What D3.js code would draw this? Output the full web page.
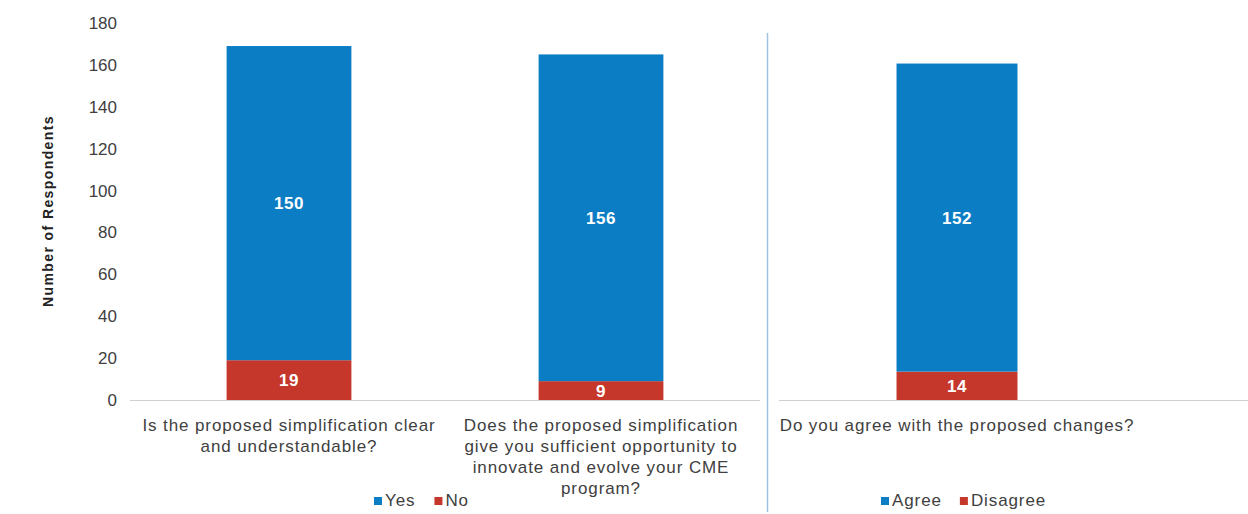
<!DOCTYPE html>
<html>
<head>
<meta charset="utf-8">
<script src="https://cdn.jsdelivr.net/npm/d3@7"></script>
<style>
  body { margin: 0; background: #fff; }
  text { font-family: "Liberation Sans", Arial, sans-serif; }
</style>
</head>
<body>
<svg id="chart" width="1248" height="514"></svg>
<script>
// left panel data
var leftCategories = [
  ["Is the proposed simplification clear", "and understandable?"],
  ["Does the proposed simplification", "give you sufficient opportunity to", "innovate and evolve your CME", "program?"]
];
var leftYes = [150, 156];
var leftNo = [19, 9];

// right panel data
var rightCategories = [["Do you agree with the proposed changes?"]];
var rightAgree = [152];
var rightDisagree = [14];

var yTicks = [0, 20, 40, 60, 80, 100, 120, 140, 160, 180];

var blue = "#0a7dc5",
    red = "#c6372b",
    textCol = "#404040";

var svg = d3.select("#chart");

var y0 = 400, yTop = 23;

var yLeft = d3.scaleLinear().domain([0, 180]).range([y0, yTop]);
// right chart has its own (hidden) value axis
var yRight = d3.scaleLinear().domain([0, 186]).range([y0, yTop]);

var xLeft = d3.scaleBand()
    .domain(d3.range(leftCategories.length))
    .range([133, 757])
    .paddingInner(0.6)
    .paddingOuter(0.3);

var xRight = d3.scaleBand()
    .domain(d3.range(rightCategories.length))
    .range([778, 1136])
    .paddingInner(0.6)
    .paddingOuter(0.392);

// y axis
var yAxis = d3.axisLeft(yLeft).tickValues(yTicks).tickSize(0).tickPadding(0);
var yAxisG = svg.append("g")
    .attr("transform", "translate(117,0)")
    .call(yAxis);
yAxisG.select(".domain").remove();
yAxisG.selectAll("text")
    .attr("font-size", 17)
    .attr("fill", textCol)
    .attr("font-family", "Liberation Sans, Arial, sans-serif");

svg.append("text")
    .attr("transform", "translate(53,211) rotate(-90)")
    .attr("text-anchor", "middle")
    .attr("font-size", 14)
    .attr("font-weight", "bold")
    .attr("letter-spacing", 1.4)
    .attr("fill", "#222")
    .text("Number of Respondents");

// baselines
svg.append("line")
    .attr("x1", 130).attr("x2", 760)
    .attr("y1", y0 + 0.5).attr("y2", y0 + 0.5)
    .attr("stroke", "#d0d0d0");
svg.append("line")
    .attr("x1", 779).attr("x2", 1248)
    .attr("y1", y0 + 0.5).attr("y2", y0 + 0.5)
    .attr("stroke", "#d0d0d0");

// divider
svg.append("line")
    .attr("x1", 767.5).attr("x2", 767.5)
    .attr("y1", 33).attr("y2", 512)
    .attr("stroke", "#9fc0de")
    .attr("stroke-width", 1.5);

function drawStack(x, y, bottom, top, cats) {
  var g = svg.append("g");
  cats.forEach(function(c, i) {
    var bx = x(i), bw = x.bandwidth();
    g.append("rect")
        .attr("x", bx).attr("width", bw)
        .attr("y", y(bottom[i])).attr("height", y(0) - y(bottom[i]))
        .attr("fill", red);
    g.append("rect")
        .attr("x", bx).attr("width", bw)
        .attr("y", y(bottom[i] + top[i])).attr("height", y(bottom[i]) - y(bottom[i] + top[i]))
        .attr("fill", blue);

    g.append("text")
        .attr("x", bx + bw / 2)
        .attr("y", y(bottom[i] / 2))
        .attr("dy", "0.35em")
        .attr("text-anchor", "middle")
        .attr("font-size", 17).attr("font-weight", "bold")
        .attr("letter-spacing", 0.5)
        .attr("fill", "#fff")
        .text(bottom[i]);
    g.append("text")
        .attr("x", bx + bw / 2)
        .attr("y", y(bottom[i] + top[i] / 2))
        .attr("dy", "0.35em")
        .attr("text-anchor", "middle")
        .attr("font-size", 17).attr("font-weight", "bold")
        .attr("letter-spacing", 0.5)
        .attr("fill", "#fff")
        .text(top[i]);

    var lbl = g.append("text")
        .attr("text-anchor", "middle")
        .attr("font-size", 17)
        .attr("letter-spacing", 0.9)
        .attr("fill", textCol);
    c.forEach(function(line, j) {
      lbl.append("tspan")
          .attr("x", bx + bw / 2)
          .attr("y", 431 + j * 21)
          .text(line);
    });
  });
}

drawStack(xLeft, yLeft, leftNo, leftYes, leftCategories);
drawStack(xRight, yRight, rightDisagree, rightAgree, rightCategories);

function legend(x0, items) {
  var g = svg.append("g").attr("transform", "translate(" + x0 + ",506)");
  var off = 0;
  items.forEach(function(it) {
    g.append("rect")
        .attr("x", off).attr("y", -9)
        .attr("width", 8).attr("height", 8)
        .attr("fill", it[1]);
    var t = g.append("text")
        .attr("x", off + 11).attr("y", 0)
        .attr("font-size", 17)
        .attr("letter-spacing", 0.9)
        .attr("fill", textCol)
        .text(it[0]);
    off += 11 + t.node().getComputedTextLength() + it[2];
  });
}

legend(374, [["Yes", blue, 19], ["No", red, 0]]);
legend(881, [["Agree", blue, 18], ["Disagree", red, 0]]);
</script>
</body>
</html>
